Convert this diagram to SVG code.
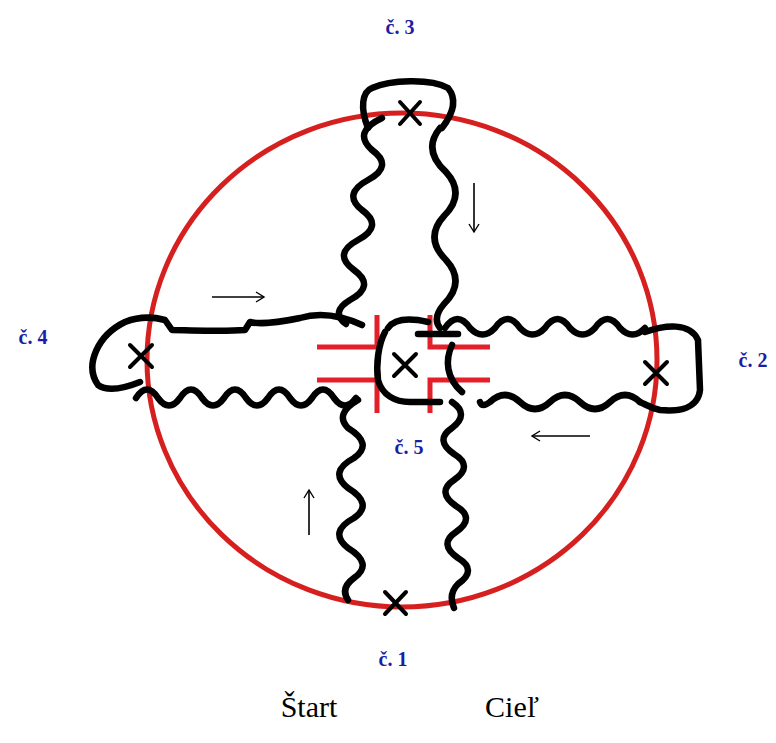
<svg xmlns="http://www.w3.org/2000/svg" width="776" height="743" viewBox="0 0 776 743">
<style>
.ring{fill:none;stroke:#d6201f;stroke-width:5}
.road{fill:none;stroke:#e3202a;stroke-width:5}
.w{fill:none;stroke:#000;stroke-width:6.5;stroke-linecap:round;stroke-linejoin:round}
.x{stroke:#000;stroke-width:4;stroke-linecap:round}
.ar{fill:none;stroke:#000;stroke-width:1.6}
.lbl{font-family:"Liberation Serif",serif;font-weight:bold;font-size:20px;fill:#1c1ca8;text-anchor:middle}
.big{font-family:"Liberation Serif",serif;font-size:30px;fill:#000;text-anchor:middle}
</style>
<defs>
<marker id="ah" markerWidth="12" markerHeight="12" refX="10" refY="6" orient="auto" markerUnits="userSpaceOnUse">
<path d="M2,1 L10,6 L2,11" fill="none" stroke="#000" stroke-width="1.4"/>
</marker>
</defs>
<rect width="776" height="743" fill="#fff"/>
<g id="circle">
<ellipse class="ring" cx="402" cy="360" rx="255" ry="247"/>
</g>
<g id="crossroad">
<path class="road" d="M317,347 H377 V315 M377,380 H317 M377,380 V413 M430,315 V347 H490 M490,380 H430 V413"/>
</g>
<g id="connectors">
<path class="w" d="M368,128 C360,108 362,92 372,88 C390,80 430,78 448,88 C458,100 452,115 442,128"/>
<path class="w" d="M382,118 q-30,14 -10,32 q22,16 -4,30 q-26,14 -6,30 q22,16 -4,30 q-26,14 -4,30 q22,16 -4,30 q-20,12 -4,24"/>
<path class="w" d="M440,128 q-18,22 6,44 q20,22 -2,44 q-20,22 2,44 q20,22 -2,44 q-12,14 -4,24"/>
<path class="w" d="M362,325 C340,315 320,312 300,318 C280,322 262,325 250,322 L245,330 C220,332 190,330 172,330 L165,320 C150,316 135,318 125,322 C98,335 84,365 98,385 C108,392 125,388 140,382"/>
<path class="w" d="M136,398 q11,-17 22,0 q11,15 22,0 q11,-17 22,0 q11,15 22,0 q11,-17 22,0 q11,15 22,0 q11,-17 22,0 q11,15 22,0 q11,-17 22,0 q11,15 22,0"/>
<path class="w" d="M445,328 q12.5,-18 25,0 q12.5,13 25,0 q12.5,-18 25,0 q12.5,13 25,0 q12.5,-18 25,0 q12.5,13 25,0 q12.5,-18 25,0 q12.5,13 25,0"/>
<path class="w" d="M645,332 C665,325 690,322 698,340 L700,390 C698,408 680,412 660,410 C650,408 645,404 640,402"/>
<path class="w" d="M640,402 q-15,-14 -30,0 q-15,14 -30,0 q-15,-14 -30,0 q-15,14 -30,0 q-15,-14 -30,0 q-8,6 -10,0"/>
<path class="w" d="M358,400 q-24,14 -10,28 q26,16 6,30 q-26,14 -6,30 q26,16 6,30 q-26,14 -6,30 q26,16 6,30 q-14,10 -6,22"/>
<path class="w" d="M452,402 q18,12 0,26 q-18,12 2,26 q20,12 0,26 q-18,12 2,26 q20,12 0,26 q-18,12 2,26 q20,12 0,26 q-10,10 -4,24"/>
<path class="w" d="M385,332 C378,345 376,365 378,380 C382,395 395,402 410,402 L440,402"/>
<path class="w" d="M388,328 C395,318 410,318 428,322"/>
<path class="w" d="M418,334 L458,334"/>
<path class="w" d="M452,345 C445,360 446,378 462,392"/>
<path class="ar" d="M212,297 H264" marker-end="url(#ah)"/>
<path class="ar" d="M474,183 V232" marker-end="url(#ah)"/>
<path class="ar" d="M590,436 H532" marker-end="url(#ah)"/>
<path class="ar" d="M309,535 V490" marker-end="url(#ah)"/>
</g>
<g id="n3"><path class="x" d="M400,102 L420,124 M420,102 L400,124"/><text class="lbl" x="400" y="34">č. 3</text></g>
<g id="n4"><path class="x" d="M130,345 L152,367 M152,345 L130,367"/><text class="lbl" x="33" y="344">č. 4</text></g>
<g id="n2"><path class="x" d="M645,362 L667,384 M667,362 L645,384"/><text class="lbl" x="753" y="367">č. 2</text></g>
<g id="n5"><path class="x" d="M394,354 L416,376 M416,354 L394,376"/><text class="lbl" x="409" y="454">č. 5</text></g>
<g id="n1"><path class="x" d="M385,592 L406,614 M406,592 L385,614"/><text class="lbl" x="393" y="666">č. 1</text></g>
<g id="labels"><text class="big" x="309" y="717">Štart</text><text class="big" x="512" y="717">Cieľ</text></g>
</svg>
